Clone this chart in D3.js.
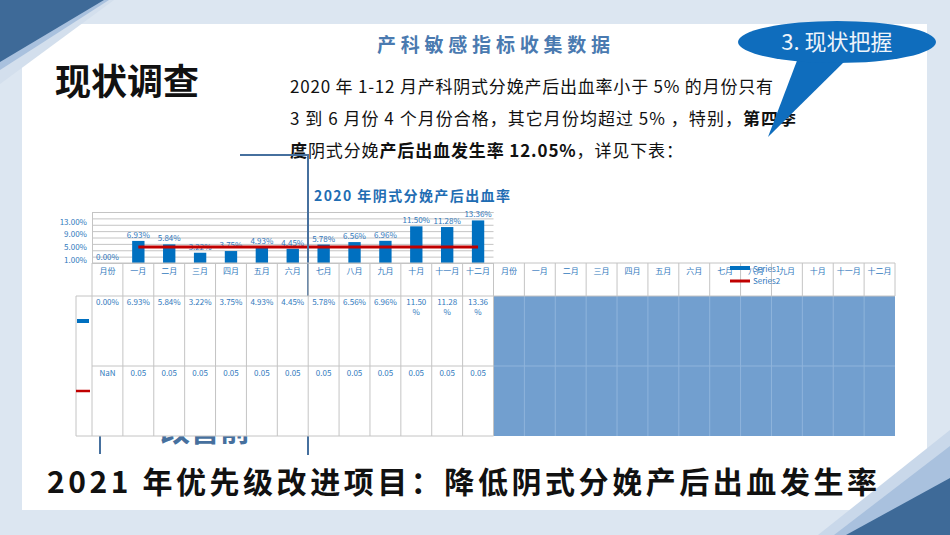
<html>
<head>
<meta charset="utf-8">
<script src="https://d3js.org/d3.v7.min.js"></script>
<style>
  body { margin: 0; padding: 0; overflow: hidden; background: #dce6f1; }
  text { font-family: "Noto Sans CJK SC", "Noto Sans", sans-serif; }
</style>
</head>
<body>
<svg id="slide" width="950" height="535"></svg>
<script>
// data
var months = ["月份", "一月", "二月", "三月", "四月", "五月", "六月", "七月", "八月", "九月", "十月", "十一月", "十二月"];
var rates = [0.00, 6.93, 5.84, 3.22, 3.75, 4.93, 4.45, 5.78, 6.56, 6.96, 11.50, 11.28, 13.36];
var target = [null, 0.05, 0.05, 0.05, 0.05, 0.05, 0.05, 0.05, 0.05, 0.05, 0.05, 0.05, 0.05];
var yTicks = [1, 5, 9, 13];
var seriesNames = ["Series1", "Series2"];

var svg = d3.select("#slide");
var labelBlue = "#3179bd", barBlue = "#0070c0", red = "#c00000", grid = "#c4c4c4", lineBlue = "#46709e";

// slide background
svg.append("rect").attr("width", 950).attr("height", 535).attr("fill", "#dce6f1");
svg.append("rect").attr("x", 22).attr("y", 24).attr("width", 905).attr("height", 486).attr("fill", "#fff");

// corner decorations
var tri = function(pts, c) { svg.append("polygon").attr("points", pts.map(p => p.join(",")).join(" ")).attr("fill", c); };
tri([[0,0],[114,0],[0,84]], "#d3dfed");
tri([[0,0],[109,0],[0,70]], "#a9c1de");
tri([[0,0],[104,0],[0,62]], "#3e6a98");
tri([[818,535],[950,430],[950,535]], "#c9d8ea");
tri([[834,535],[950,446],[950,535]], "#a9c1de");
tri([[846,535],[950,478],[950,535]], "#3e6a98");

// heading texts
svg.append("text").attr("x", 55).attr("y", 95).attr("font-size", 36).attr("font-weight", "bold")
  .attr("fill", "#111").text("现状调查");
svg.append("text").attr("x", 377).attr("y", 52).attr("font-size", 19).attr("font-weight", "bold")
  .attr("fill", "#4a7ab0").attr("textLength", 233).attr("lengthAdjust", "spacing").text("产科敏感指标收集数据");

var para = [
  [["2020 年 1-12 月产科阴式分娩产后出血率小于 5% 的月份只有", "normal"]],
  [["3 到 6 月份 4 个月份合格，其它月份均超过 5% ，特别，", "normal"], ["第四季", "bold"]],
  [["度", "bold"], ["阴式分娩", "normal"], ["产后出血发生率 12.05%", "bold"], ["，详见下表：", "normal"]]
];
var paraY = [93, 125, 157];
var paraW = [483, 506, 393];
para.forEach(function(line, i) {
  var t = svg.append("text").attr("x", 290).attr("y", paraY[i]).attr("font-size", 17).attr("fill", "#111")
    .attr("textLength", paraW[i]).attr("lengthAdjust", "spacing");
  line.forEach(function(seg) { t.append("tspan").attr("font-weight", seg[1]).text(seg[0]); });
});

// connector lines
svg.append("line").attr("x1", 240).attr("y1", 155).attr("x2", 308).attr("y2", 155).attr("stroke", lineBlue).attr("stroke-width", 2);
svg.append("line").attr("x1", 100).attr("y1", 425).attr("x2", 100).attr("y2", 454).attr("stroke", lineBlue).attr("stroke-width", 2);
svg.append("text").attr("x", 160).attr("y", 441).attr("font-size", 30).attr("font-weight", "bold")
  .attr("fill", lineBlue).text("改善前");

// chart
var x = d3.scaleBand().domain(d3.range(26)).range([92, 895]).padding(0);
var bw = x.bandwidth();
var plotRight = x(12) + bw;
var y = d3.scaleLinear().domain([0, 16]).range([263, 212]);

svg.append("text").attr("x", 314).attr("y", 201).attr("font-size", 14).attr("font-weight", "bold")
  .attr("fill", "#1f6db3").attr("textLength", 196).attr("lengthAdjust", "spacing").text("2020 年阴式分娩产后出血率");

var gy = svg.append("g").attr("transform", "translate(92,0)")
  .call(d3.axisLeft(y).tickValues(d3.range(0, 17, 2)).tickSize(-(plotRight - 92)).tickFormat(""));
gy.select(".domain").attr("stroke", grid);
gy.selectAll(".tick line").attr("stroke", grid);

var gl = svg.append("g").attr("transform", "translate(92,0)")
  .call(d3.axisLeft(y).tickValues(yTicks).tickSize(0).tickPadding(5).tickFormat(d => d.toFixed(2) + "%"));
gl.select(".domain").remove();
gl.selectAll("text").attr("fill", labelBlue).attr("font-size", 8).attr("font-family", "DejaVu Sans, sans-serif");

svg.selectAll(".bar").data(rates).join("rect").attr("class", "bar")
  .attr("x", (d, i) => x(i) + bw * 0.3).attr("width", bw * 0.4)
  .attr("y", d => y(d)).attr("height", d => y(0) - y(d)).attr("fill", barBlue);

svg.selectAll(".blab").data(rates).join("text").attr("class", "blab")
  .attr("x", (d, i) => x(i) + bw / 2).attr("y", d => y(d) - 3).attr("text-anchor", "middle")
  .attr("font-size", 8).attr("font-family", "DejaVu Sans, sans-serif").attr("fill", labelBlue)
  .text(d => d.toFixed(2) + "%");

var tline = d3.line().defined(d => d != null).x((d, i) => x(i) + bw / 2).y(d => y(d * 100));
svg.append("path").datum(target).attr("d", tline).attr("fill", "none").attr("stroke", red).attr("stroke-width", 3);

// long vertical connector (over the plot, under the table body)
svg.append("line").attr("x1", 308).attr("y1", 154).attr("x2", 308).attr("y2", 455).attr("stroke", lineBlue).attr("stroke-width", 2);

// data table
var top0 = 263, r1 = 296, r2 = 366, r3 = 436;
svg.append("rect").attr("x", 76).attr("y", r1).attr("width", plotRight - 76).attr("height", r3 - r1).attr("fill", "#fff");
svg.append("rect").attr("x", plotRight).attr("y", r1).attr("width", 895 - plotRight).attr("height", r3 - r1).attr("fill", "#729fcf");

var cols = d3.range(26);
svg.selectAll(".vgrid").data(d3.range(27)).join("line").attr("class", "vgrid")
  .attr("x1", i => i < 26 ? x(i) : 895).attr("x2", i => i < 26 ? x(i) : 895)
  .attr("y1", top0).attr("y2", i => i > 13 ? r1 : r3).attr("stroke", grid);
svg.selectAll(".vgrid2").data(d3.range(14, 26)).join("line").attr("class", "vgrid2")
  .attr("x1", i => x(i)).attr("x2", i => x(i)).attr("y1", r1).attr("y2", r3).attr("stroke", "#8fb4dc");
svg.append("line").attr("x1", 92).attr("x2", 895).attr("y1", top0).attr("y2", top0).attr("stroke", grid);
svg.append("line").attr("x1", 76).attr("x2", 895).attr("y1", r1).attr("y2", r1).attr("stroke", grid);
svg.append("line").attr("x1", 92).attr("x2", plotRight).attr("y1", r2).attr("y2", r2).attr("stroke", grid);
svg.append("line").attr("x1", plotRight).attr("x2", 895).attr("y1", r2).attr("y2", r2).attr("stroke", "#8fb4dc");
svg.append("line").attr("x1", 76).attr("x2", plotRight).attr("y1", r3).attr("y2", r3).attr("stroke", grid);
svg.append("line").attr("x1", 76).attr("x2", 76).attr("y1", r1).attr("y2", r3).attr("stroke", grid);

svg.selectAll(".cat").data(cols).join("text").attr("class", "cat")
  .attr("x", i => x(i) + bw / 2).attr("y", 274).attr("text-anchor", "middle")
  .attr("font-size", 8).attr("fill", labelBlue).text(i => months[i % 13]);

var row1 = svg.selectAll(".r1").data(rates).join("text").attr("class", "r1")
  .attr("x", (d, i) => x(i) + bw / 2).attr("y", 305).attr("text-anchor", "middle")
  .attr("font-size", 8).attr("font-family", "DejaVu Sans, sans-serif").attr("fill", labelBlue);
row1.each(function(d) {
  var t = d3.select(this), s = d.toFixed(2);
  if (d >= 10) {
    t.append("tspan").text(s);
    t.append("tspan").attr("x", t.attr("x")).attr("dy", 10).text("%");
  } else t.text(s + "%");
});
svg.selectAll(".r2").data(target).join("text").attr("class", "r2")
  .attr("x", (d, i) => x(i) + bw / 2).attr("y", 376).attr("text-anchor", "middle")
  .attr("font-size", 8).attr("font-family", "DejaVu Sans, sans-serif").attr("fill", labelBlue)
  .text(d => d == null ? "NaN" : d);

// legend keys in table
svg.append("rect").attr("x", 77).attr("y", 319).attr("width", 12).attr("height", 4).attr("fill", barBlue);
svg.append("line").attr("x1", 76).attr("x2", 90).attr("y1", 391).attr("y2", 391).attr("stroke", red).attr("stroke-width", 2.5);

// legend (sits over the header labels, as in the source)
svg.append("rect").attr("x", 730).attr("y", 266).attr("width", 20).attr("height", 4).attr("fill", barBlue);
svg.append("line").attr("x1", 730).attr("x2", 750).attr("y1", 281).attr("y2", 281).attr("stroke", red).attr("stroke-width", 3);
svg.selectAll(".leg").data(seriesNames).join("text").attr("class", "leg")
  .attr("x", 753).attr("y", (d, i) => 272 + i * 12).attr("font-size", 8)
  .attr("font-family", "DejaVu Sans, sans-serif").attr("fill", labelBlue).text(d => d);

// callout
svg.append("polygon").attr("points", "798,58 848,58 768,137").attr("fill", "#0f6dbd");
svg.append("ellipse").attr("cx", 837).attr("cy", 42).attr("rx", 99).attr("ry", 21).attr("fill", "#0f6dbd");
svg.append("text").attr("x", 837).attr("y", 50).attr("text-anchor", "middle").attr("font-size", 22)
  .attr("fill", "#eef4fa").text("3. 现状把握");

// bottom statement
svg.append("text").attr("x", 47).attr("y", 493).attr("font-size", 30).attr("font-weight", "bold")
  .attr("fill", "#111").attr("textLength", 830).attr("lengthAdjust", "spacing")
  .text("2021 年优先级改进项目：降低阴式分娩产后出血发生率");
</script>
</body>
</html>
